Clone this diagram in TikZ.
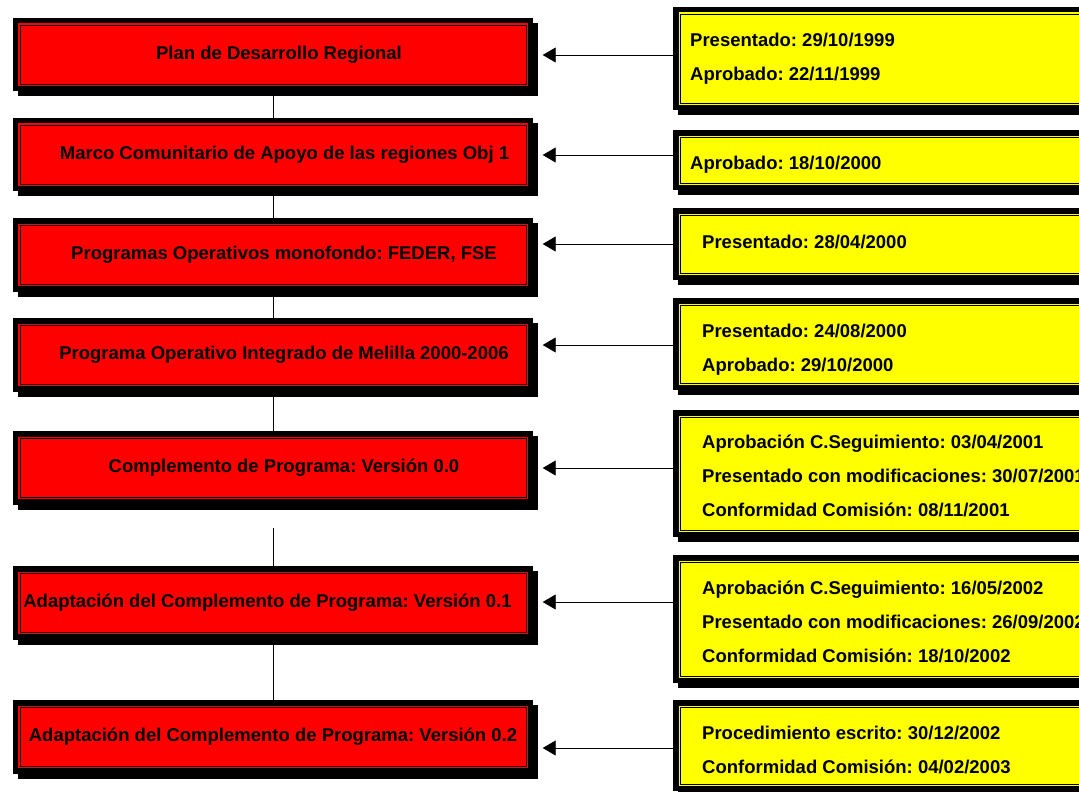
\documentclass[tikz,border=0pt]{standalone}
\usepackage{fontspec}
\setmainfont{Liberation Sans}
\usetikzlibrary{arrows.meta,backgrounds}

% framed box: drop shadow, thick black frame, coloured face, thin inner rule
\newcommand\stageframe[2]{%
  \fill[black] ([shift={(5,5)}]#1.north west) rectangle ([shift={(5,5)}]#1.south east);
  \fill[black] (#1.north west) rectangle (#1.south east);
  \fill[#2] ([shift={(5.5,5.5)}]#1.north west) rectangle ([shift={(-5.5,-5.5)}]#1.south east);
  \draw[black, line width=0.9pt] ([shift={(7.2,7.2)}]#1.north west) rectangle ([shift={(-7.2,-7.2)}]#1.south east);
}

\definecolor{stagered}{RGB}{255,0,0}
\definecolor{noteyellow}{RGB}{255,255,0}

\tikzset{
  stage/.style={minimum width=520pt, minimum height=73pt, inner sep=0pt,
    font=\bfseries\fontsize{18.5}{22}\selectfont\frenchspacing},
  lead/.style={execute at begin node={\hspace*{#1}}},
  note/.style={anchor=north west, inner sep=0pt, minimum width=480pt},
  notetext/.style={anchor=west, inner sep=0pt, align=left,
    font=\bfseries\fontsize{18.5}{34}\selectfont\frenchspacing},
  link/.style={line width=0.9pt},
  feed/.style={line width=0.9pt, -{Triangle[length=13pt,width=15pt]}, shorten >=9.5pt},
}

\begin{document}
\begin{tikzpicture}[x=1pt, y=-1pt]
\useasboundingbox (0,0) rectangle (1079,792);

% programme stages
\node[stage, lead=12pt]  (b1) at (273,54.5)  {Plan de Desarrollo Regional};
\node[stage, lead=23pt]  (b2) at (273,154.5) {Marco Comunitario de Apoyo de las regiones Obj 1};
\node[stage, lead=22pt]  (b3) at (273,255)   {Programas Operativos monofondo: FEDER, FSE};
\node[stage, lead=22pt]  (b4) at (273,355)   {Programa Operativo Integrado de Melilla 2000-2006};
\node[stage, lead=22pt]  (b5) at (273,468)   {Complemento de Programa: Versión 0.0};
\node[stage, lead=-11pt] (b6) at (273,603)   {Adaptación del Complemento de Programa: Versión 0.1};
\node[stage, lead=0pt]   (b7) at (273,737)   {Adaptación del Complemento de Programa: Versión 0.2};

% date panels
\node[note, minimum height=103pt] (y1) at (673,7)   {};
\node[note, minimum height=60pt]  (y2) at (673,130) {};
\node[note, minimum height=72pt]  (y3) at (673,208) {};
\node[note, minimum height=92pt]  (y4) at (673,298) {};
\node[note, minimum height=127pt] (y5) at (673,410) {};
\node[note, minimum height=128pt] (y6) at (673,555) {};
\node[note, minimum height=91pt]  (y7) at (673,700) {};

% dates
\node[notetext] (t1) at ([shift={(17,0.5)}]y1.west)
  {Presentado: 29/10/1999\\Aprobado: 22/11/1999};
\node[notetext] (t2) at ([shift={(17,5)}]y2.west)
  {Aprobado: 18/10/2000};
\node[notetext] (t3) at ([shift={(29,-2)}]y3.west)
  {Presentado: 28/04/2000};
\node[notetext] (t4) at ([shift={(29,6)}]y4.west)
  {Presentado: 24/08/2000\\Aprobado: 29/10/2000};
\node[notetext] (t5) at ([shift={(29,2)}]y5.west)
  {Aprobación C.Seguimiento: 03/04/2001\\Presentado con modificaciones: 30/07/2001\\Conformidad Comisión: 08/11/2001};
\node[notetext] (t6) at ([shift={(29,3)}]y6.west)
  {Aprobación C.Seguimiento: 16/05/2002\\Presentado con modificaciones: 26/09/2002\\Conformidad Comisión: 18/10/2002};
\node[notetext] (t7) at ([shift={(29,4.5)}]y7.west)
  {Procedimiento escrito: 30/12/2002\\Conformidad Comisión: 04/02/2003};

\begin{scope}[on background layer]
  \foreach \n in {b1,b2,b3,b4,b5,b6,b7} {\stageframe{\n}{stagered}}
  \foreach \n in {y1,y2,y3,y4,y5,y6,y7} {\stageframe{\n}{noteyellow}}
\end{scope}

% sequence of stages
\coordinate (g5) at (273,528);
\draw[link] (b1.south) -- (b2.north);
\draw[link] (b2.south) -- (b3.north);
\draw[link] (b3.south) -- (b4.north);
\draw[link] (b4.south) -- (b5.north);
\draw[link] (g5) -- (b6.north);
\draw[link] (b6.south) -- (b7.north);

% dates feeding each stage
\draw[feed] (y1.west |- 0,55)  -- (b1.east |- 0,55);
\draw[feed] (y2.west |- 0,155) -- (b2.east |- 0,155);
\draw[feed] (y3.west |- 0,244) -- (b3.east |- 0,244);
\draw[feed] (y4.west |- 0,345) -- (b4.east |- 0,345);
\draw[feed] (y5.west |- 0,468) -- (b5.east |- 0,468);
\draw[feed] (y6.west |- 0,602) -- (b6.east |- 0,602);
\draw[feed] (y7.west |- 0,748) -- (b7.east |- 0,748);
\end{tikzpicture}
\end{document}
